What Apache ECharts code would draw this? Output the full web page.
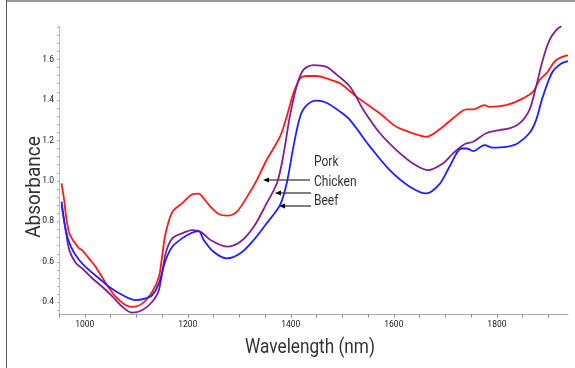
<!DOCTYPE html>
<html><head><meta charset="utf-8">
<script src="https://cdn.jsdelivr.net/npm/echarts@6/dist/echarts.min.js"></script>
<style>html,body{margin:0;padding:0;background:#fff;}#c{width:575px;height:368px;}</style>
</head><body><div id="c"></div>
<script>
// Data (wavelength nm, absorbance)
const porkWl  = [955,960,964,970,979,989,995,1008,1021,1041,1060,1079,1092,1112,1131,1144,1150,1157,1170,1189,1208,1221,1231,1244,1260,1276,1295,1315,1334,1353,1379,1392,1405,1418,1431,1450,1469,1496,1528,1573,1605,1637,1663,1689,1715,1741,1754,1776,1786,1818,1844,1870,1883,1896,1915,1934,1938];
const porkAbs = [0.988,0.905,0.82,0.741,0.70,0.667,0.658,0.617,0.576,0.494,0.428,0.387,0.378,0.395,0.452,0.526,0.625,0.741,0.847,0.889,0.933,0.937,0.913,0.872,0.836,0.828,0.847,0.921,1.004,1.103,1.218,1.317,1.432,1.506,1.518,1.518,1.506,1.481,1.415,1.333,1.267,1.235,1.218,1.255,1.309,1.353,1.353,1.374,1.366,1.374,1.399,1.44,1.498,1.531,1.597,1.619,1.62];
const beefWl  = [955,963,973,989,1008,1028,1047,1073,1099,1118,1131,1144,1157,1170,1189,1208,1221,1231,1250,1276,1302,1328,1353,1379,1392,1405,1418,1431,1450,1469,1496,1515,1554,1592,1631,1663,1689,1708,1731,1741,1754,1776,1792,1818,1840,1863,1876,1889,1908,1925,1938];
const beefAbs = [0.897,0.757,0.675,0.609,0.56,0.518,0.477,0.436,0.411,0.42,0.436,0.494,0.609,0.675,0.716,0.744,0.752,0.708,0.65,0.617,0.642,0.708,0.79,0.88,0.988,1.168,1.317,1.374,1.396,1.386,1.341,1.30,1.168,1.053,0.971,0.938,0.985,1.07,1.16,1.16,1.147,1.177,1.164,1.168,1.185,1.235,1.30,1.415,1.539,1.58,1.592];
const chickenWl  = [955,963,970,983,995,1015,1034,1054,1073,1092,1112,1131,1144,1157,1170,1189,1208,1225,1244,1276,1302,1328,1353,1373,1385,1398,1411,1424,1444,1469,1489,1515,1541,1573,1605,1637,1666,1695,1715,1738,1754,1779,1805,1824,1844,1863,1876,1889,1902,1915,1925];
const chickenAbs = [0.88,0.757,0.658,0.593,0.568,0.518,0.477,0.428,0.378,0.349,0.362,0.403,0.461,0.642,0.716,0.741,0.757,0.749,0.708,0.675,0.699,0.773,0.889,0.988,1.119,1.317,1.465,1.547,1.572,1.563,1.525,1.465,1.35,1.235,1.152,1.086,1.053,1.086,1.136,1.182,1.193,1.235,1.251,1.259,1.284,1.35,1.465,1.597,1.695,1.745,1.764];
const xLabels = [1000,1200,1400,1600,1800];
const yLabels = [0.4,0.6,0.8,1.0,1.2,1.4,1.6];
const labels = ['Pork','Chicken','Beef'];
const xTitle = 'Wavelength (nm)';
const yTitle = 'Absorbance';

const zip = (a,b) => a.map((v,i)=>[v,b[i]]);
const xTicks = []; for (let v=950; v<=1900; v+=50) xTicks.push(v);
const yTicks = []; for (let i=0; i<=35; i++) yTicks.push(+(0.36+i*0.04).toFixed(2));
const ff = "Roboto, 'Noto Sans', sans-serif";

const chart = echarts.init(document.getElementById('c'), null, {renderer:'canvas'});
const lineS = (name, data, color) => ({type:'line', name, data, showSymbol:false, smooth:0.3,
  lineStyle:{color, width:1.8}, itemStyle:{color}, animation:false});
chart.setOption({
  animation:false,
  grid:{left:59, top:26, right:7, bottom:53.5, containLabel:false},
  xAxis:{type:'value', min:950, max:1938,
    axisLine:{lineStyle:{color:'#aaa', width:1}},
    axisTick:{customValues:xTicks, length:3, lineStyle:{color:'#888'}},
    axisLabel:{customValues:xLabels, fontFamily:ff, fontSize:8.5, color:'#222', margin:6,
      formatter:v=>String(v)},
    splitLine:{show:false}},
  yAxis:{type:'value', min:0.34, max:1.765,
    axisLine:{show:true, lineStyle:{color:'#bbb', width:1}},
    axisTick:{show:true, customValues:yTicks, length:2, lineStyle:{color:'#aaa'}},
    axisLabel:{customValues:yLabels, fontFamily:ff, fontSize:8.5, color:'#222', margin:5,
      formatter:v=>v.toFixed(1)},
    splitLine:{show:false}},
  series:[
    lineS('Pork', zip(porkWl,porkAbs), '#ff1a1a'),
    lineS('Chicken', zip(chickenWl,chickenAbs), '#80208f'),
    lineS('Beef', zip(beefWl,beefAbs), '#1f1fff')
  ],
  graphic:[
    {type:'line', shape:{x1:6,y1:1,x2:575,y2:1}, style:{stroke:'#999', lineWidth:2}},
    {type:'line', shape:{x1:6.5,y1:0,x2:6.5,y2:368}, style:{stroke:'#555', lineWidth:1}},
    {type:'text', x:310, y:348, scaleX:0.86, style:{text:xTitle, font:"20px "+ff, fill:'#333', align:'center', verticalAlign:'middle'}},
    {type:'text', x:35, y:187, rotation:Math.PI/2, scaleX:0.95, style:{text:yTitle, font:"20px "+ff, fill:'#333', align:'center', verticalAlign:'middle'}},
    {type:'text', x:314, y:162.5, scaleX:0.8, style:{text:labels[0], font:"15px "+ff, fill:'#333', align:'left', verticalAlign:'middle'}},
    {type:'text', x:314, y:182, scaleX:0.8, style:{text:labels[1], font:"15px "+ff, fill:'#333', align:'left', verticalAlign:'middle'}},
    {type:'text', x:314, y:201.5, scaleX:0.8, style:{text:labels[2], font:"15px "+ff, fill:'#333', align:'left', verticalAlign:'middle'}},
    {type:'line', shape:{x1:310,y1:180,x2:266,y2:180}, style:{stroke:'#000', lineWidth:1}},
    {type:'polygon', shape:{points:[[263,180],[269,177.5],[269,182.5]]}, style:{fill:'#000'}},
    {type:'line', shape:{x1:311,y1:193,x2:278,y2:193}, style:{stroke:'#000', lineWidth:1}},
    {type:'polygon', shape:{points:[[275,193],[281,190.5],[281,195.5]]}, style:{fill:'#000'}},
    {type:'line', shape:{x1:311,y1:206,x2:282,y2:206}, style:{stroke:'#000', lineWidth:1}},
    {type:'polygon', shape:{points:[[279,206],[285,203.5],[285,208.5]]}, style:{fill:'#000'}}
  ]
});
</script></body></html>
